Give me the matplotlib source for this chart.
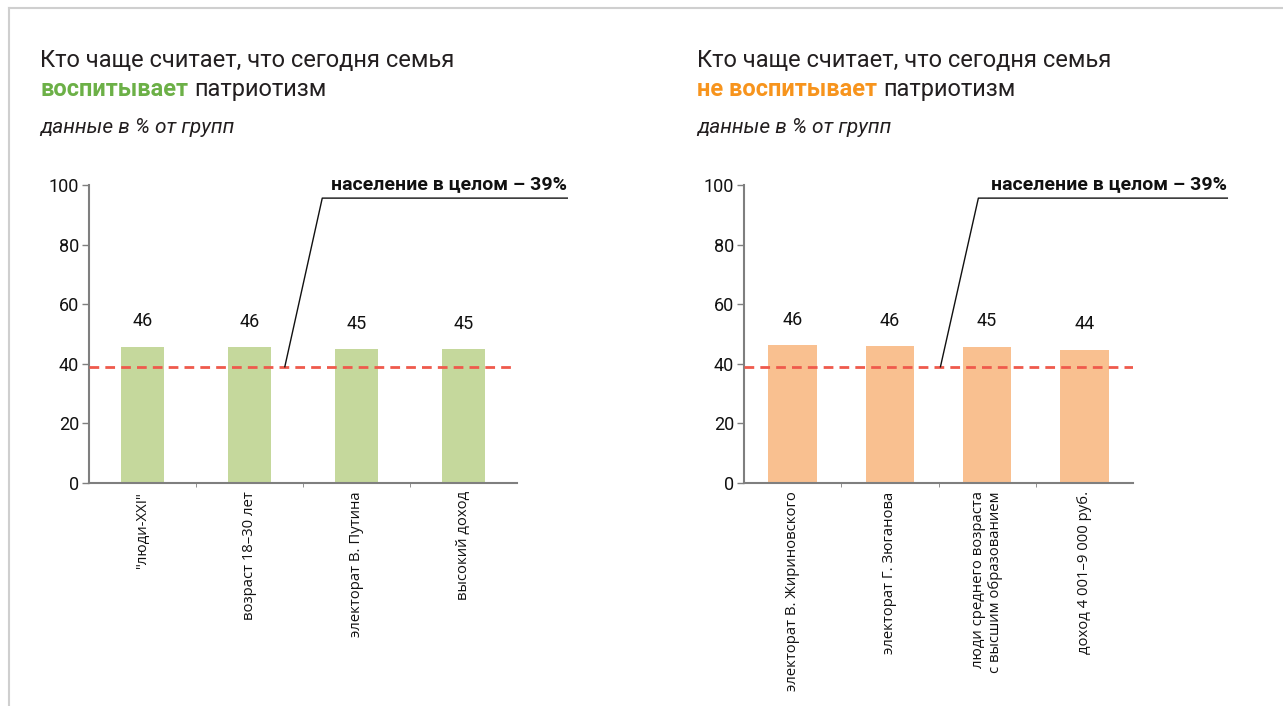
import matplotlib
matplotlib.use("Agg")
import matplotlib.pyplot as plt
from matplotlib import font_manager
from matplotlib.lines import Line2D

# ---------------- data ----------------
left_categories = ['"люди-XXI"', 'возраст 18–30 лет', 'электорат В. Путина', 'высокий доход']
left_values = [45.8, 45.5, 44.9, 44.9]
left_labels = ['46', '46', '45', '45']

right_categories = ['электорат В. Жириновского', 'электорат Г. Зюганова',
                    'люди среднего возраста\nс высшим образованием', 'доход 4 001–9 000 руб.']
right_values = [46.3, 46.0, 45.7, 44.7]
right_labels = ['46', '46', '45', '44']

population_total = 39
y_ticks = [0, 20, 40, 60, 80, 100]

# ---------------- styling ----------------
avail = {f.name for f in font_manager.fontManager.ttflist}
TITLE_FONT = 'Liberation Sans Narrow' if 'Liberation Sans Narrow' in avail else 'Roboto'
LABEL_FONT = 'Open Sans'
DARK = '#231f20'
GREEN_TXT = '#6cb047'
ORANGE_TXT = '#f7941d'
GREEN_BAR = '#c5d89c'
ORANGE_BAR = '#f9c090'
RED = '#ef5a4c'
AXIS_GRAY = '#7f7f7f'

W, H = 1283, 706
fig = plt.figure(figsize=(W / 100, H / 100), dpi=100)
fig.patch.set_facecolor('white')

# frame lines (top and left)
fig.add_artist(Line2D([9 / W, 1], [1 - 8 / H, 1 - 8 / H], color='#cfcfcf', lw=1.5))
fig.add_artist(Line2D([9 / W, 9 / W], [0, 1 - 8 / H], color='#cfcfcf', lw=1.5))

renderer = fig.canvas.get_renderer()


def mixed_title(x_px, y1_px, y2_px, accent, accent_color):
    fs = 17 if TITLE_FONT == 'Roboto' else 20
    fig.text(x_px / W, 1 - y1_px / H, 'Кто чаще считает, что сегодня семья',
             fontsize=fs, color=DARK, family=TITLE_FONT, va='baseline', ha='left')
    t = fig.text(x_px / W, 1 - y2_px / H, accent, fontsize=fs, color=accent_color,
                 family=TITLE_FONT, weight='bold', va='baseline', ha='left')
    bb = t.get_window_extent(renderer=renderer)
    fig.text(bb.x1 / W + 6 / W, 1 - y2_px / H, 'патриотизм', fontsize=fs, color=DARK,
             family=TITLE_FONT, va='baseline', ha='left')
    fig.text(x_px / W, 1 - 133 / H, 'данные в % от групп', fontsize=15, color=DARK,
             family=TITLE_FONT, style='italic', va='baseline', ha='left')


def panel(ax_px, categories, values, labels, bar_color, bar_width, ann):
    x0, x1 = ax_px
    ax = fig.add_axes([x0 / W, 1 - 483 / H, (x1 - x0) / W, (483 - 185) / H])
    xs = list(range(len(categories)))
    ax.bar(xs, values, width=bar_width, color=bar_color, zorder=2)
    for x, v, lab in zip(xs, values, labels):
        ax.text(x, v + 5.5, lab, ha='center', va='bottom', fontsize=13,
                color='#111111', family=TITLE_FONT)
    ax.axhline(population_total, color=RED, lw=2, ls=(0, (3.5, 2.2)), zorder=3)
    ax.set_xlim(-0.5, len(categories) - 0.5)
    ax.set_ylim(0, 100)
    ax.set_yticks(y_ticks)
    ax.set_yticklabels([str(t) for t in y_ticks], family=TITLE_FONT, fontsize=13, color='#111111')
    ax.set_xticks(xs)
    ax.set_xticklabels(categories, rotation=90, ha='center', va='top', multialignment='right',
                       family=LABEL_FONT, fontsize=10.7, color='#111111')
    ax.tick_params(axis='x', length=0, pad=6)
    ax.set_xticks([i + 0.5 for i in xs[:-1]], minor=True)
    ax.tick_params(axis='x', which='minor', length=3, color=AXIS_GRAY, direction='out')
    ax.tick_params(axis='y', length=5, color=AXIS_GRAY, width=1, pad=2)
    for s in ('top', 'right'):
        ax.spines[s].set_visible(False)
    for s in ('left', 'bottom'):
        ax.spines[s].set_color(AXIS_GRAY)
        ax.spines[s].set_linewidth(1.5)
    ax.patch.set_alpha(0)
    # annotation leader line + text
    (ax_a, ay_a), (ax_b, ay_b), (ax_c, ay_c) = ann
    ax.plot([ax_a, ax_b, ax_c], [ay_a, ay_b, ay_c], color='#111111', lw=1, clip_on=False, zorder=4)
    ax.text(ax_c, ay_b + 1.6, 'население в целом – 39%', ha='right', va='bottom',
            fontsize=14, weight='bold', family=TITLE_FONT, color='#111111', clip_on=False)
    return ax


mixed_title(40, 67, 96, 'воспитывает', GREEN_TXT)
mixed_title(697, 67, 96, 'не воспитывает', ORANGE_TXT)

panel((89, 517), left_categories, left_values, left_labels, GREEN_BAR, 0.40,
      [(1.33, population_total), (1.68, 95.6), (3.97, 95.6)])
panel((744, 1133), right_categories, right_values, right_labels, ORANGE_BAR, 0.50,
      [(1.52, population_total), (1.91, 95.6), (4.47, 95.6)])

fig.savefig('out.png', dpi=100, facecolor='white')
